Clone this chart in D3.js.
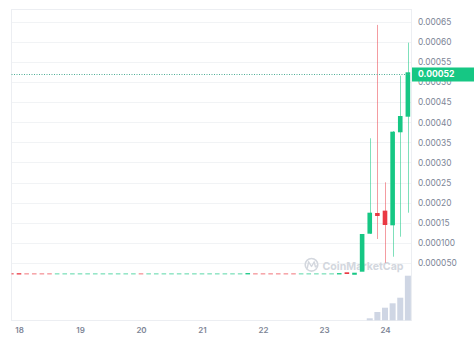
<!DOCTYPE html>
<html>
<head>
<meta charset="utf-8">
<script src="https://cdn.jsdelivr.net/npm/d3@7"></script>
<style>
  html, body { margin: 0; padding: 0; background: #ffffff; }
  svg { display: block; font-family: Inter, "Noto Sans", sans-serif; }
</style>
</head>
<body>
<svg id="chart" width="474" height="351"></svg>
<script>
// ---- data: 3-hour candles, first candle = 17th 21:00 ----
const firstCandle = new Date(2023, 0, 17, 21);
const candleHours = 3;

const opens = [
  0.0000236, 0.0000240, 0.0000229, 0.0000229, 0.0000229, 0.0000229,
  0.0000227, 0.0000227, 0.0000227, 0.0000227, 0.0000227, 0.0000227,
  0.0000227, 0.0000227, 0.0000227, 0.0000227, 0.0000227,
  0.0000229,
  0.0000227, 0.0000227, 0.0000227, 0.0000227, 0.0000227, 0.0000227,
  0.0000227, 0.0000227, 0.0000227, 0.0000227, 0.0000227, 0.0000227, 0.0000227,
  0.0000218,
  0.0000229, 0.0000229, 0.0000229, 0.0000229, 0.0000229, 0.0000229,
  0.0000227, 0.0000227, 0.0000227, 0.0000227, 0.0000227,
  0.0000216,
  0.0000266,
  0.0000205,
  0.0000281, 0.0001226, 0.0001741, 0.0001800, 0.0001435, 0.0003749, 0.0004137
];
const closes = [
  0.0000222, 0.0000215, 0.0000227, 0.0000227, 0.0000227, 0.0000227,
  0.0000229, 0.0000229, 0.0000229, 0.0000229, 0.0000229, 0.0000229,
  0.0000229, 0.0000229, 0.0000229, 0.0000229, 0.0000229,
  0.0000227,
  0.0000229, 0.0000229, 0.0000229, 0.0000229, 0.0000229, 0.0000229,
  0.0000229, 0.0000229, 0.0000229, 0.0000229, 0.0000229, 0.0000229, 0.0000229,
  0.0000243,
  0.0000227, 0.0000227, 0.0000227, 0.0000227, 0.0000227, 0.0000227,
  0.0000229, 0.0000229, 0.0000229, 0.0000229, 0.0000229,
  0.0000243,
  0.0000224,
  0.0000256,
  0.0001219, 0.0001749, 0.0001667, 0.0001443, 0.0003764, 0.0004154, 0.0005241
];
const highs = [
  0.0000236, 0.0000240, 0.0000229, 0.0000229, 0.0000229, 0.0000229,
  0.0000229, 0.0000229, 0.0000229, 0.0000229, 0.0000229, 0.0000229,
  0.0000229, 0.0000229, 0.0000229, 0.0000229, 0.0000229,
  0.0000229,
  0.0000229, 0.0000229, 0.0000229, 0.0000229, 0.0000229, 0.0000229,
  0.0000229, 0.0000229, 0.0000229, 0.0000229, 0.0000229, 0.0000229, 0.0000229,
  0.0000243,
  0.0000229, 0.0000229, 0.0000229, 0.0000229, 0.0000229, 0.0000229,
  0.0000229, 0.0000229, 0.0000229, 0.0000229, 0.0000229,
  0.0000243,
  0.0000266,
  0.0000256,
  0.0001219, 0.0003600, 0.0006420, 0.0002505, 0.0003780, 0.0005157, 0.0005978
];
const lows = [
  0.0000222, 0.0000215, 0.0000227, 0.0000227, 0.0000227, 0.0000227,
  0.0000227, 0.0000227, 0.0000227, 0.0000227, 0.0000227, 0.0000227,
  0.0000227, 0.0000227, 0.0000227, 0.0000227, 0.0000227,
  0.0000227,
  0.0000227, 0.0000227, 0.0000227, 0.0000227, 0.0000227, 0.0000227,
  0.0000227, 0.0000227, 0.0000227, 0.0000227, 0.0000227, 0.0000227, 0.0000227,
  0.0000218,
  0.0000227, 0.0000227, 0.0000227, 0.0000227, 0.0000227, 0.0000227,
  0.0000227, 0.0000227, 0.0000227, 0.0000227, 0.0000227,
  0.0000216,
  0.0000224,
  0.0000205,
  0.0000281, 0.0001220, 0.0001095, 0.0000505, 0.0000654, 0.0001152, 0.0001749
];
const volumes = [
  0, 0, 0, 0, 0, 0, 0, 0, 0, 0, 0, 0, 0, 0, 0, 0, 0, 0, 0, 0,
  0, 0, 0, 0, 0, 0, 0, 0, 0, 0, 0, 0, 0, 0, 0, 0, 0, 0, 0, 0,
  0, 0, 0, 0, 0, 0, 0,
  2.4, 8.7, 13.0, 17.4, 23.0, 45.0
];

const yTickValues = [0.00005, 0.0001, 0.00015, 0.0002, 0.00025, 0.0003, 0.00035,
                     0.0004, 0.00045, 0.0005, 0.00055, 0.0006, 0.00065];
const yTickLabels = ["0.000050", "0.000100", "0.00015", "0.00020", "0.00025", "0.00030", "0.00035",
                     "0.00040", "0.00045", "0.00050", "0.00055", "0.00060", "0.00065"];
const xTickDays = [18, 19, 20, 21, 22, 23, 24];
const xTickLabels = ["18", "19", "20", "21", "22", "23", "24"];
const lastPrice = 0.00052;
const lastPriceLabel = "0.00052";

// ---- build table ----
const candles = opens.map((o, i) => ({
  t: d3.timeHour.offset(firstCandle, i * candleHours),
  o, c: closes[i], h: highs[i], l: lows[i], v: volumes[i]
}));

const GREEN = "#16c784", RED = "#ea3943";

// ---- layout ----
const plot = { left: 11.5, right: 411.5, top: 9.5, bottom: 320.5 };
const svg = d3.select("#chart");

const x = d3.scaleTime()
  .domain([new Date(2023, 0, 18), new Date(2023, 0, 24)])
  .range([19, 385]);
const y = d3.scaleLinear().domain([0, 0.0007]).range([283, 1.6]);
const yVol = d3.scaleLinear().domain([0, 45]).range([320.7, 275.7]);

const defs = svg.append("defs");
defs.append("clipPath").attr("id", "plotclip")
  .append("rect").attr("x", plot.left).attr("y", plot.top)
  .attr("width", plot.right - plot.left).attr("height", plot.bottom - plot.top);

// gridlines
svg.append("g").selectAll("line").data(yTickValues).join("line")
  .attr("x1", plot.left).attr("x2", plot.right)
  .attr("y1", d => Math.round(y(d)) + 0.5).attr("y2", d => Math.round(y(d)) + 0.5)
  .attr("stroke", "#f1f3f5").attr("stroke-width", 1);

// frame
svg.append("rect")
  .attr("x", plot.left).attr("y", plot.top)
  .attr("width", plot.right - plot.left).attr("height", plot.bottom - plot.top)
  .attr("fill", "none").attr("stroke", "#eceef2").attr("stroke-width", 1);

// watermark
const wm = svg.append("g");
wm.append("circle").attr("cx", 311.5).attr("cy", 264.8).attr("r", 6.3)
  .attr("fill", "none").attr("stroke", "#d3d7de").attr("stroke-width", 1.6);
wm.append("path")
  .attr("d", "M307.3,268 L308.6,261.8 L311.5,266.5 L314.2,261.8 L315.4,266.8 L316.6,266")
  .attr("fill", "none").attr("stroke", "#d3d7de").attr("stroke-width", 1.4)
  .attr("stroke-linejoin", "round").attr("stroke-linecap", "round");
wm.append("text").attr("x", 322.5).attr("y", 269.5)
  .attr("font-size", 11).attr("font-weight", 700).attr("fill", "#d3d7de")
  .attr("textLength", 81).attr("lengthAdjust", "spacingAndGlyphs")
  .text("CoinMarketCap");

const g = svg.append("g").attr("clip-path", "url(#plotclip)");

// volume bars
g.append("g").selectAll("rect").data(candles.filter(d => d.v > 0)).join("rect")
  .attr("x", d => x(d.t) - 3).attr("width", 6)
  .attr("y", d => yVol(d.v)).attr("height", d => yVol(0) - yVol(d.v))
  .attr("fill", "#cfd6e4");

// wicks
g.append("g").selectAll("line").data(candles.filter(d => d.h > Math.max(d.o, d.c) || d.l < Math.min(d.o, d.c))).join("line")
  .attr("x1", d => Math.round(x(d.t)) + 0.5).attr("x2", d => Math.round(x(d.t)) + 0.5)
  .attr("y1", d => y(d.h)).attr("y2", d => y(d.l))
  .attr("stroke", d => d.c >= d.o ? GREEN : RED)
  .attr("stroke-opacity", d => d.c >= d.o ? 0.55 : 0.5)
  .attr("stroke-width", 1);

// bodies
g.append("g").selectAll("rect").data(candles).join("rect")
  .attr("x", d => x(d.t) - 2.3).attr("width", 4.6)
  .attr("y", d => {
    const top = y(Math.max(d.o, d.c)), h = Math.abs(y(d.o) - y(d.c));
    return h < 1.3 ? (top + h / 2 - 0.65) : top;
  })
  .attr("height", d => Math.max(1.3, Math.abs(y(d.o) - y(d.c))))
  .attr("fill", d => d.c >= d.o ? GREEN : RED)
  .attr("fill-opacity", d => {
    const h = Math.abs(y(d.o) - y(d.c));
    return h >= 1 ? 1 : 0.5 + 0.5 * h;
  });

// last price dotted line
svg.append("line")
  .attr("x1", plot.left).attr("x2", plot.right)
  .attr("y1", Math.round(y(lastPrice)) + 0.5).attr("y2", Math.round(y(lastPrice)) + 0.5)
  .attr("stroke", "#4fae96").attr("stroke-width", 1).attr("stroke-dasharray", "1,1.5");

// y axis labels
const yAxis = d3.axisRight(y).tickValues(yTickValues)
  .tickFormat((d, i) => yTickLabels[i]).tickSize(0).tickPadding(0);
const ya = svg.append("g").attr("transform", "translate(418,0)").call(yAxis);
ya.select(".domain").remove();
ya.selectAll("text").attr("font-family", "Inter, sans-serif").attr("font-size", 8.4)
  .attr("fill", "#7d8596").attr("x", 0).attr("dy", "0.34em");

// last price tag
svg.append("rect").attr("x", 412).attr("y", Math.round(y(lastPrice)) - 6.5)
  .attr("width", 62).attr("height", 14).attr("fill", GREEN);
svg.append("text").attr("x", 418).attr("y", y(lastPrice)).attr("dy", "0.36em")
  .attr("font-size", 8.6).attr("font-weight", 700).attr("fill", "#ffffff")
  .text(lastPriceLabel);

// x axis labels
const xAxis = d3.axisBottom(x)
  .tickValues(xTickDays.map(dd => new Date(2023, 0, dd)))
  .tickFormat((d, i) => xTickLabels[i]).tickSize(0).tickPadding(0);
const xa = svg.append("g").attr("transform", "translate(0,327)").call(xAxis);
xa.select(".domain").remove();
xa.selectAll("text").attr("font-family", "Inter, sans-serif").attr("font-size", 8)
  .attr("font-weight", 600).attr("fill", "#7d8596");
</script>
</body>
</html>
